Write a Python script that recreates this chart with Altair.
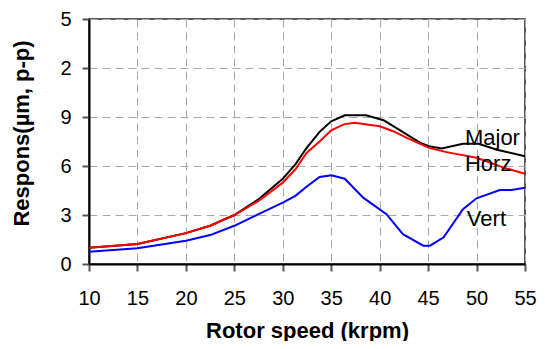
import altair as alt
import pandas as pd

major_speed = [10, 15, 20, 22.5, 25, 27.5, 30, 31.3, 32.45, 33.8, 35, 36.4, 38.6, 40.4, 41.7, 44.2, 45.1, 46.4, 48.6, 50.2, 52.1, 55]
major_resp = [0.99, 1.22, 1.89, 2.34, 3.0, 3.96, 5.22, 6.1, 7.1, 8.09, 8.74, 9.1, 9.1, 8.8, 8.33, 7.42, 7.21, 7.07, 7.36, 7.36, 7.0, 6.6]

horz_speed = [10, 15, 20, 22.5, 25, 27.5, 30, 31.3, 32.45, 33.8, 35, 36.3, 37.4, 40, 41.4, 42.8, 45.1, 46.9, 50, 52.8, 55]
horz_resp = [0.99, 1.22, 1.89, 2.34, 3.0, 3.86, 4.98, 5.8, 6.8, 7.5, 8.19, 8.55, 8.64, 8.43, 8.13, 7.72, 7.11, 6.85, 6.5, 5.9, 5.53]

vert_speed = [10, 15, 20, 22.5, 25, 27.5, 30, 31.3, 32.45, 33.8, 35, 36.4, 38.3, 40.7, 42.4, 44.5, 45.2, 46.6, 48.6, 50, 52.4, 53.6, 55]
vert_resp = [0.75, 0.97, 1.42, 1.77, 2.34, 3.05, 3.76, 4.17, 4.73, 5.33, 5.43, 5.22, 4.06, 3.05, 1.83, 1.12, 1.12, 1.63, 3.35, 4.02, 4.53, 4.53, 4.67]

series_names = ["Major", "Horz", "Vert"]
series_colors = ["#000000", "#ff0000", "#0000ff"]

label_text = ["Major", "Horz", "Vert"]
label_x = [48.8, 48.8, 49.0]
label_y = [7.74, 6.1, 2.74]

rows = []
for name, xs, ys in [("Major", major_speed, major_resp), ("Horz", horz_speed, horz_resp), ("Vert", vert_speed, vert_resp)]:
    for i, (a, b) in enumerate(zip(xs, ys)):
        rows.append({"series": name, "speed": a, "resp": b, "order": i})
df = pd.DataFrame(rows)
labels = pd.DataFrame({"text": label_text, "speed": label_x, "resp": label_y})

xscale = alt.Scale(domain=[10, 55], nice=False, zero=False)
yscale = alt.Scale(domain=[0, 15], nice=False)

xaxis = alt.Axis(
    values=list(range(10, 56, 5)), title="Rotor speed (krpm)",
    labelFlush=False, labelOverlap=False,
    labelFontSize=20, labelFont="Liberation Sans", labelColor="#000",
    titleFontSize=22, titleFont="Liberation Sans", titleFontWeight="bold", titleColor="#000",
    titlePadding=12, labelPadding=17, tickSize=7, tickWidth=2, tickColor="#555",
    domainColor="#000", domainWidth=2,
    grid=True, gridColor="#a8a8a8", gridDash=[8, 5], gridWidth=1,
)
yaxis = alt.Axis(
    values=list(range(0, 16, 3)), title="Respons(µm, p-p)",
    labelExpr="datum.value % 10",
    labelFlush=False, labelOverlap=False,
    labelFontSize=20, labelFont="Liberation Sans", labelColor="#000",
    titleFontSize=22, titleFont="Liberation Sans", titleFontWeight="bold", titleColor="#000",
    titleX=-56, titleY=114, titleBaseline="bottom",
    labelPadding=11, tickSize=7, tickWidth=2, tickColor="#555",
    domainColor="#000", domainWidth=2,
    grid=True, gridColor="#a8a8a8", gridDash=[8, 5], gridWidth=1,
)

lines = alt.Chart(df).mark_line(strokeWidth=2).encode(
    x=alt.X("speed:Q", scale=xscale, axis=xaxis),
    y=alt.Y("resp:Q", scale=yscale, axis=yaxis),
    color=alt.Color("series:N", scale=alt.Scale(domain=series_names, range=series_colors), legend=None),
    order="order:Q",
)

texts = alt.Chart(labels).mark_text(align="left", baseline="middle", fontSize=22, font="Liberation Sans", color="#000").encode(
    x=alt.X("speed:Q", scale=xscale),
    y=alt.Y("resp:Q", scale=yscale),
    text="text:N",
)

chart = alt.layer(lines, texts).properties(
    width=436, height=245,
    autosize=alt.AutoSizeParams(type="none"),
    padding={"left": 81, "top": 11, "right": 12, "bottom": 77},
    background="white",
).configure_view(stroke="#222", strokeWidth=1.5)

chart.save("out.html", embed_options={"renderer": "svg", "actions": False})
